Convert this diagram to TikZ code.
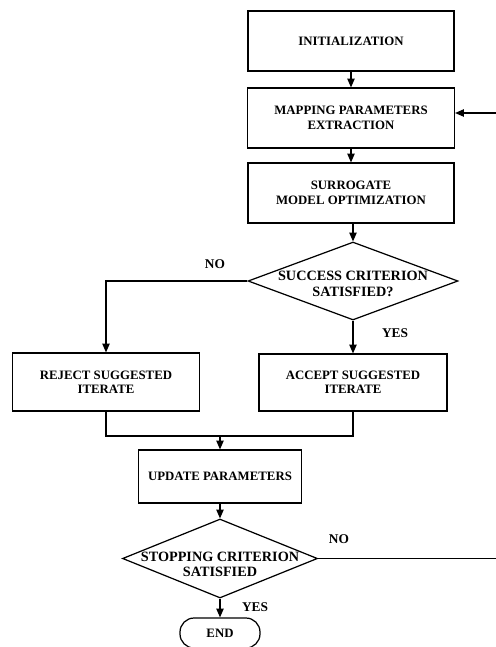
\documentclass[tikz,border=0pt]{standalone}
\usepackage{fontspec}
\setmainfont{Liberation Serif}
\usetikzlibrary{shapes.geometric,arrows.meta}
\begin{document}
\begin{tikzpicture}[x=0.02cm,y=-0.02cm,
    box/.style={draw,line width=0.7pt,inner sep=0pt,align=center,font=\fontsize{7.3}{8.2}\selectfont\bfseries},
    decision/.style={draw,diamond,line width=0.7pt,inner sep=0pt},
    lbl/.style={align=center,inner sep=0pt,font=\fontsize{7.6}{8.2}\selectfont\bfseries},
    dectext/.style={align=center,inner sep=0pt,font=\fontsize{8.1}{8.7}\selectfont\bfseries},
    line/.style={line width=0.6pt},
    arr/.style={line width=0.6pt,-{Triangle[length=5pt,width=4.2pt]}}]
  \useasboundingbox (0,0) rectangle (496,647);
  % main column
  \node[box,minimum width=4.12cm,minimum height=1.2cm] (init) at (351,41) {INITIALIZATION};
  \node[box,minimum width=4.14cm,minimum height=1.2cm] (map) at (351,118) {MAPPING PARAMETERS\\EXTRACTION};
  \node[box,minimum width=4.12cm,minimum height=1.2cm] (surr) at (351,193) {SURROGATE\\MODEL OPTIMIZATION};
  \node[decision,minimum width=4.2cm,minimum height=1.56cm] (dec1) at (353,281) {};
  \node[dectext] (dec1txt) at (353,284) {SUCCESS CRITERION\\SATISFIED?};
  \node[box,minimum width=3.74cm,minimum height=1.16cm] (reject) at (106,382) {REJECT SUGGESTED\\ITERATE};
  \node[box,minimum width=3.76cm,minimum height=1.14cm] (accept) at (353,382.5) {ACCEPT SUGGESTED\\ITERATE};
  \node[box,minimum width=3.26cm,minimum height=1.06cm] (update) at (220,476.5) {UPDATE PARAMETERS};
  \node[decision,minimum width=3.9cm,minimum height=1.58cm] (dec2) at (220,558.5) {};
  \node[dectext] (dec2txt) at (220,564) {STOPPING CRITERION\\SATISFIED};
  \node[box,rounded corners=8pt,minimum width=1.6cm,minimum height=0.6cm] (end) at (220,633) {END};
  % branch labels
  \node[lbl] (no1) at (215,264) {NO};
  \node[lbl] (yes1) at (395,333) {YES};
  \node[lbl] (no2) at (339,539) {NO};
  \node[lbl] (yes2) at (255,607) {YES};
  \coordinate (join) at (220,436);
  \coordinate (fb) at (502,113);
  % connectors
  \draw[arr] (init) -- (map);
  \draw[arr] (map) -- (surr);
  \draw[arr] (surr.south -| dec1.north) -- (dec1.north);
  \draw[arr] (dec1.west) -| (reject.north);
  \draw[arr] (dec1.south) -- (accept.north);
  \draw[line] (reject.south) |- (join) -| (accept.south);
  \draw[arr] (join) -- (update.north);
  \draw[arr] (update) -- (dec2);
  \draw[arr] (dec2.south) -- (end.north);
  \draw[arr] (dec2.east) -| (fb) -- (fb -| map.east);
\end{tikzpicture}
\end{document}
